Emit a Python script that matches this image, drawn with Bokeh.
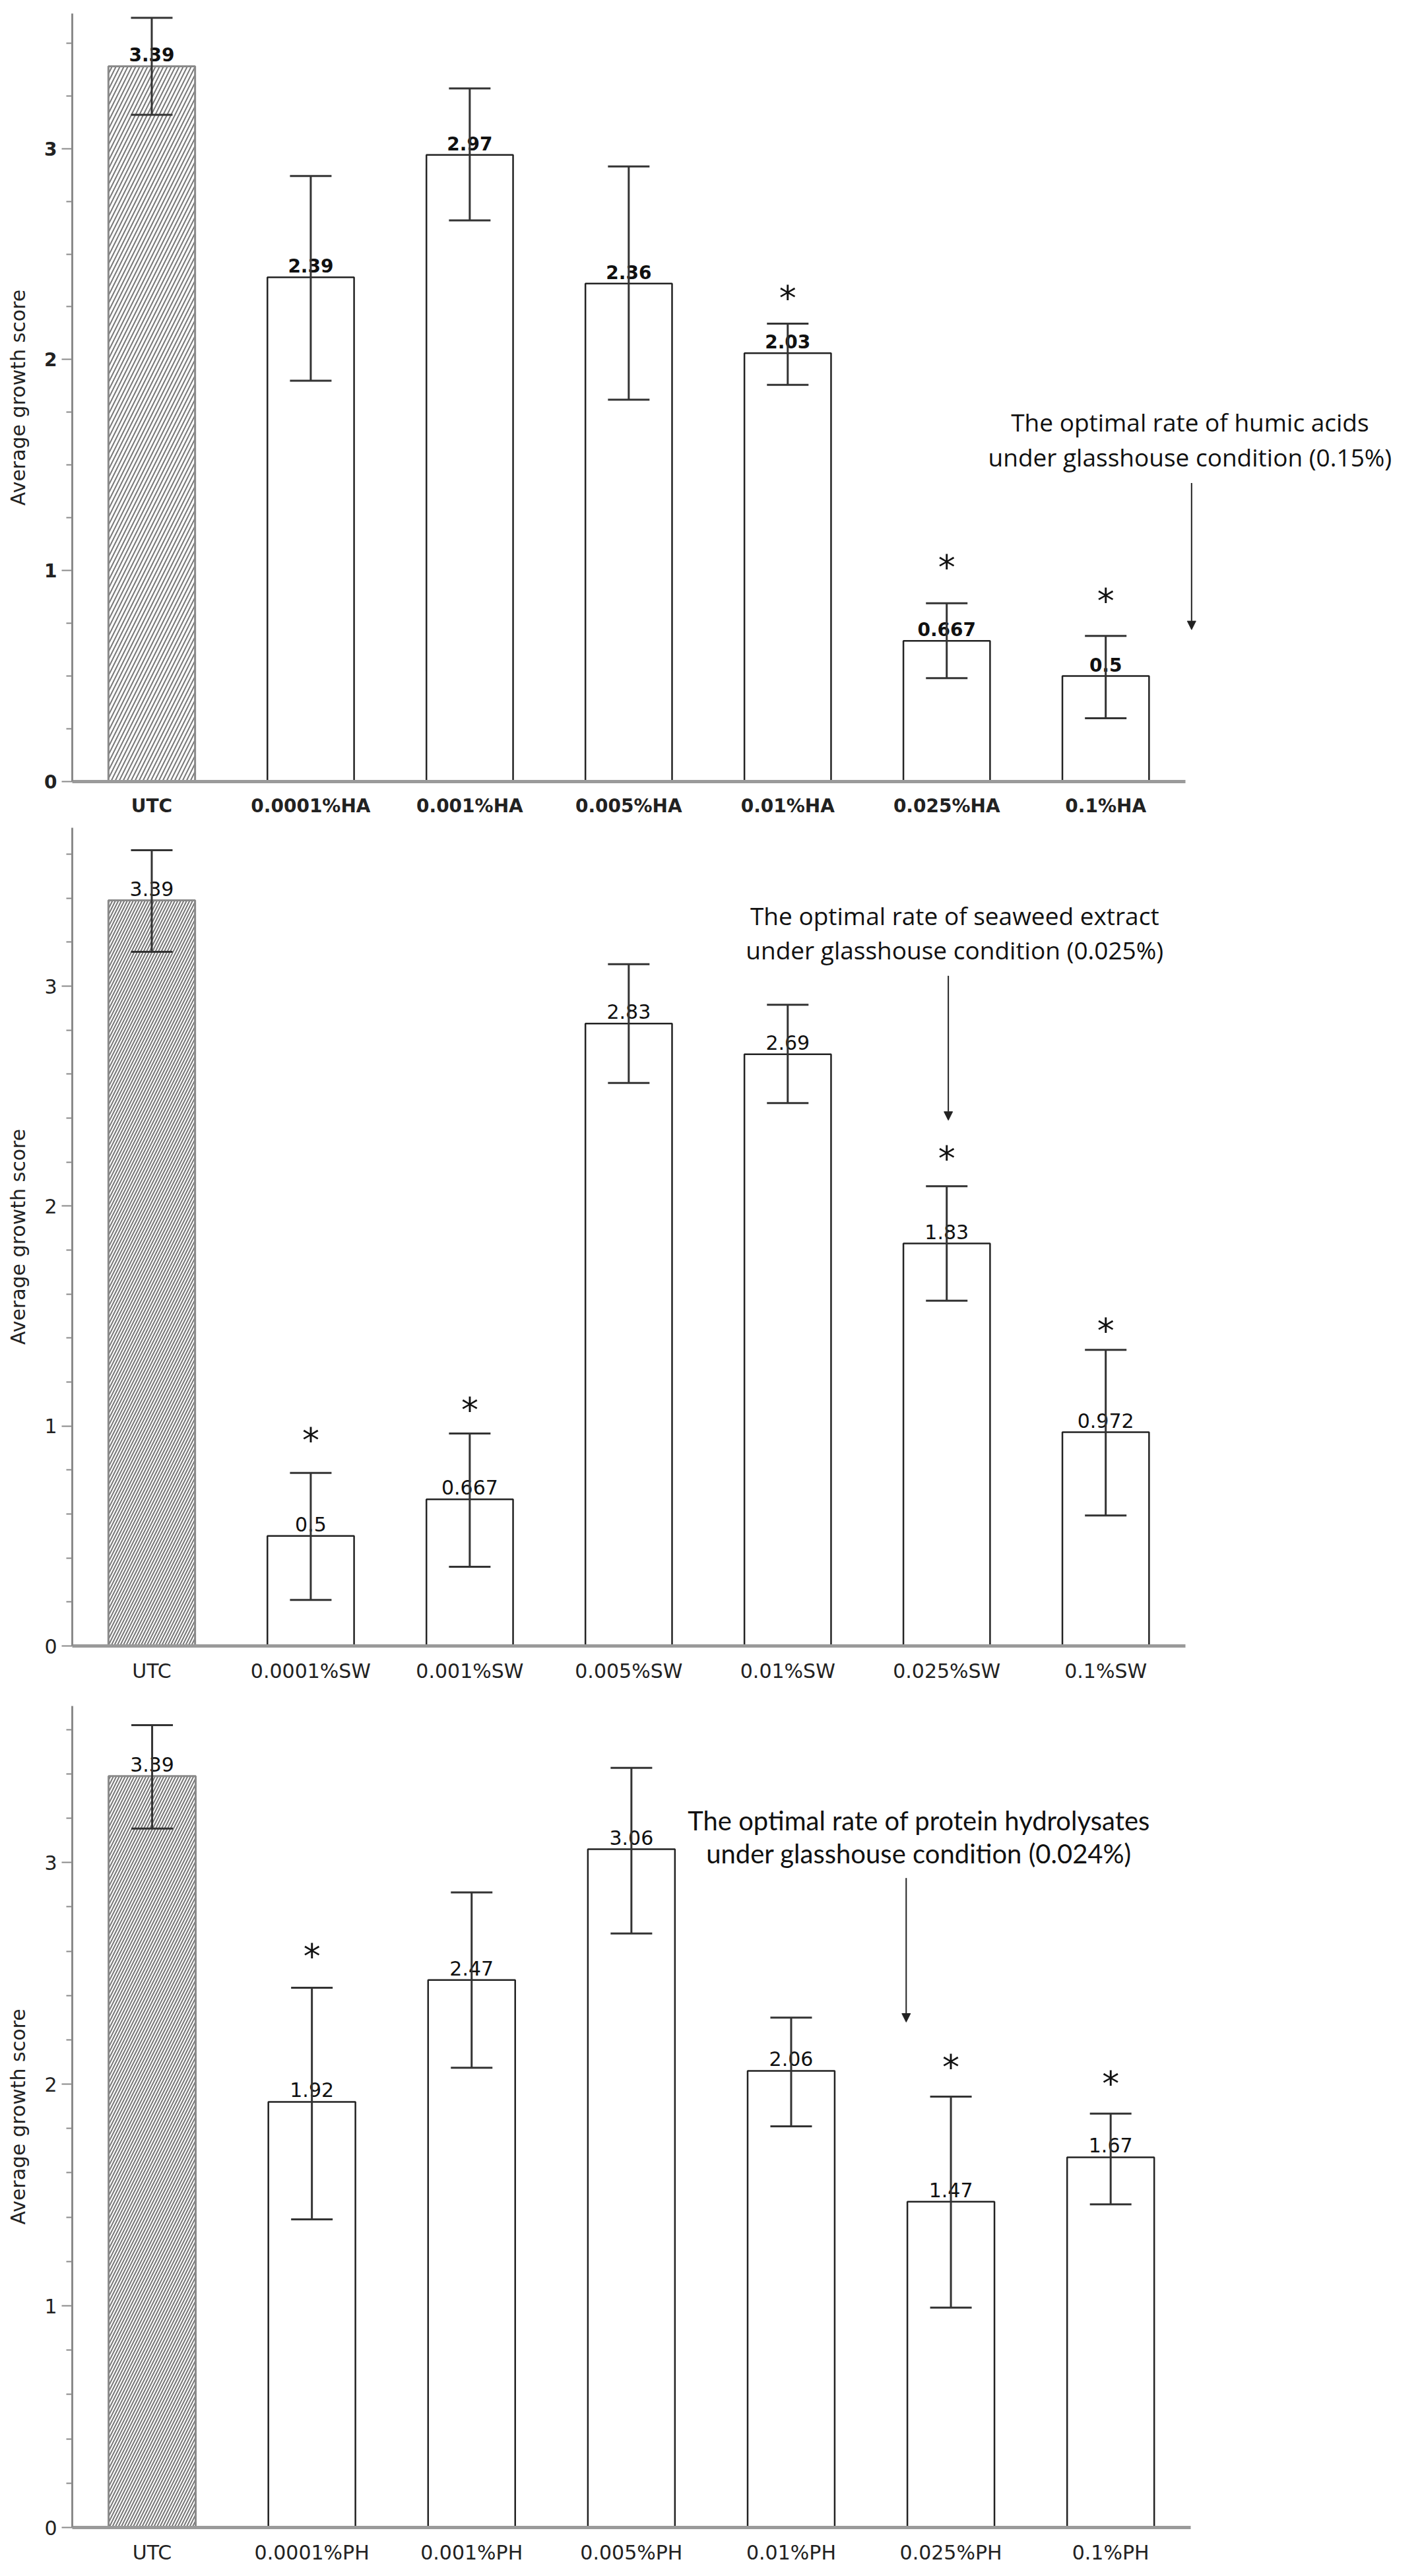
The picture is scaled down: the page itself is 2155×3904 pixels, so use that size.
from bokeh.plotting import figure
from bokeh.models import ColumnDataSource, FixedTicker, Whisker, TeeHead, Arrow, NormalHead, Range1d
from bokeh.layouts import column
from bokeh.embed import file_html
from bokeh.resources import INLINE
from bokeh.core.properties import value
import numpy as np

# ---------------- data ----------------
ha_categories = ["UTC", "0.0001%HA", "0.001%HA", "0.005%HA", "0.01%HA", "0.025%HA", "0.1%HA"]
ha_means = [3.39, 2.39, 2.97, 2.36, 2.03, 0.667, 0.5]
ha_labels = ["3.39", "2.39", "2.97", "2.36", "2.03", "0.667", "0.5"]
ha_upper = [3.62, 2.87, 3.285, 2.915, 2.17, 0.845, 0.69]
ha_lower = [3.16, 1.90, 2.66, 1.81, 1.88, 0.49, 0.30]
ha_star = [None, None, None, None, 2.315, 1.04, 0.88]
ha_note = ["The optimal rate of humic acids", "under glasshouse condition (0.15%)"]

sw_categories = ["UTC", "0.0001%SW", "0.001%SW", "0.005%SW", "0.01%SW", "0.025%SW", "0.1%SW"]
sw_means = [3.39, 0.5, 0.667, 2.83, 2.69, 1.83, 0.972]
sw_labels = ["3.39", "0.5", "0.667", "2.83", "2.69", "1.83", "0.972"]
sw_upper = [3.618, 0.787, 0.966, 3.10, 2.915, 2.09, 1.346]
sw_lower = [3.156, 0.209, 0.36, 2.56, 2.468, 1.57, 0.593]
sw_star = [None, 0.96, 1.098, None, None, 2.24, 1.458]
sw_note = ["The optimal rate of seaweed extract", "under glasshouse condition (0.025%)"]

ph_categories = ["UTC", "0.0001%PH", "0.001%PH", "0.005%PH", "0.01%PH", "0.025%PH", "0.1%PH"]
ph_means = [3.39, 1.92, 2.47, 3.06, 2.06, 1.47, 1.67]
ph_labels = ["3.39", "1.92", "2.47", "3.06", "2.06", "1.47", "1.67"]
ph_upper = [3.62, 2.435, 2.865, 3.427, 2.30, 1.944, 1.867]
ph_lower = [3.153, 1.39, 2.074, 2.68, 1.81, 0.992, 1.458]
ph_star = [None, 2.6, None, None, None, 2.10, 2.026]
ph_note = ["The optimal rate of protein hydrolysates", "under glasshouse condition (0.024%)"]

y_tick_values = [0, 1, 2, 3]
y_title = "Average growth score"


def make_panel(cats, means, labels, upper, lower, stars, note,
               note_x, note_y, arrow_x, arrow_y, y_top, x_end, minor_step,
               height, b_top, b_bottom, b_left, bold, note_font, note_size,
               hatch_scale):
    n = len(cats)
    xs = list(range(1, n + 1))
    p = figure(width=2139, height=height, x_range=Range1d(0.5, x_end),
               y_range=Range1d(0, y_top), output_backend="svg",
               toolbar_location=None, min_border_left=b_left, min_border_right=6,
               min_border_top=b_top, min_border_bottom=b_bottom,
               background_fill_color="white", border_fill_color="white")
    p.outline_line_color = None
    p.xgrid.visible = False
    p.ygrid.visible = False

    style = "bold" if bold else "normal"
    fs = "28px" if bold else "30px"

    # y axis
    minor = [float(v) for v in np.arange(minor_step, y_top, minor_step) if abs(v - round(v)) > 1e-6]
    p.yaxis.ticker = FixedTicker(ticks=y_tick_values, minor_ticks=minor)
    p.yaxis.axis_line_color = "#8a8a8a"
    p.yaxis.axis_line_width = 3
    p.yaxis.major_tick_line_color = "#8a8a8a"
    p.yaxis.major_tick_line_width = 2
    p.yaxis.major_tick_out = 16
    p.yaxis.major_tick_in = 0
    p.yaxis.minor_tick_line_color = "#8a8a8a"
    p.yaxis.minor_tick_line_width = 2
    p.yaxis.minor_tick_out = 9
    p.yaxis.minor_tick_in = 0
    p.yaxis.major_label_text_font = "DejaVu Sans"
    p.yaxis.major_label_text_font_size = fs
    p.yaxis.major_label_text_font_style = style
    p.yaxis.major_label_text_color = "#222222"
    p.yaxis.major_label_standoff = 7
    p.yaxis.axis_label = y_title
    p.yaxis.axis_label_text_font = "DejaVu Sans"
    p.yaxis.axis_label_text_font_size = "30px"
    p.yaxis.axis_label_text_font_style = "normal"
    p.yaxis.axis_label_text_color = "#222222"
    p.yaxis.axis_label_standoff = 19

    # x axis (baseline + category labels)
    p.xaxis.ticker = FixedTicker(ticks=xs)
    p.xaxis.major_label_overrides = {x: c for x, c in zip(xs, cats)}
    p.xaxis.bounds = (0.5, n + 0.5)
    p.xaxis.axis_line_color = "#9a9a9a"
    p.xaxis.axis_line_width = 5
    p.xaxis.major_tick_line_color = None
    p.xaxis.minor_tick_line_color = None
    p.xaxis.major_label_text_font = "DejaVu Sans"
    p.xaxis.major_label_text_font_size = fs
    p.xaxis.major_label_text_font_style = style
    p.xaxis.major_label_text_color = "#222222"
    p.xaxis.major_label_standoff = 14

    # bars
    src = ColumnDataSource(dict(x=xs, top=means, label=labels, upper=upper, lower=lower))
    rest = ColumnDataSource(dict(x=xs[1:], top=means[1:]))
    p.vbar(x="x", top="top", bottom=0, width=0.545, source=rest,
           fill_color="white", line_color="#222222", line_width=2.5)
    p.vbar(x=[xs[0]], top=[means[0]], bottom=0, width=0.545,
           fill_color="white", line_color="#8a8a8a", line_width=3,
           hatch_pattern="/", hatch_color="#777777", hatch_scale=hatch_scale,
           hatch_weight=2)

    # value labels
    p.text(x="x", y="top", text="label", source=src, text_align="center",
           text_baseline="bottom", y_offset=-7,
           text_font=value("DejaVu Sans"), text_font_size=fs,
           text_font_style=style, text_color="#111111")

    # error bars
    p.add_layout(Whisker(base="x", upper="upper", lower="lower", source=src,
                         level="overlay",
                         line_color="#333333", line_width=3,
                         upper_head=TeeHead(size=63, line_color="#333333", line_width=3),
                         lower_head=TeeHead(size=63, line_color="#333333", line_width=3)))

    # significance stars
    sx = [x for x, s in zip(xs, stars) if s is not None]
    sy = [s for s in stars if s is not None]
    p.text(x=sx, y=sy, text=["*"] * len(sx), text_align="center",
           text_baseline="middle", y_offset=8,
           text_font=value("DejaVu Sans"), text_font_size="52px", text_color="#111111")

    # annotation
    p.text(x=[note_x] * len(note), y=note_y, text=note, text_align="center",
           text_baseline="middle", text_font=value(note_font),
           text_font_size=note_size, text_color="#111111")
    p.add_layout(Arrow(end=NormalHead(size=13, fill_color="#222222", line_color="#222222", line_width=1),
                       x_start=arrow_x, y_start=arrow_y[0], x_end=arrow_x, y_end=arrow_y[1],
                       line_color="#222222", line_width=2))
    return p


p1 = make_panel(ha_categories, ha_means, ha_labels, ha_upper, ha_lower, ha_star, ha_note,
                note_x=7.53, note_y=[1.705, 1.54], arrow_x=7.54, arrow_y=(1.415, 0.72),
                y_top=3.64, x_end=8.90, minor_step=0.25, height=1240, b_top=20,
                b_bottom=55, b_left=109, bold=True, note_font="Open Sans",
                note_size="37px", hatch_scale=12)
p2 = make_panel(sw_categories, sw_means, sw_labels, sw_upper, sw_lower, sw_star, sw_note,
                note_x=6.05, note_y=[3.32, 3.164], arrow_x=6.01, arrow_y=(3.047, 2.39),
                y_top=3.72, x_end=8.90, minor_step=0.2, height=1312, b_top=14,
                b_bottom=55, b_left=109, bold=False, note_font="Open Sans",
                note_size="37px", hatch_scale=9)
p3 = make_panel(ph_categories, ph_means, ph_labels, ph_upper, ph_lower, ph_star, ph_note,
                note_x=5.80, note_y=[3.19, 3.04], arrow_x=5.72, arrow_y=(2.93, 2.28),
                y_top=3.706, x_end=8.86, minor_step=0.2, height=1336, b_top=33,
                b_bottom=52, b_left=102, bold=False, note_font="Lato",
                note_size="40px", hatch_scale=9)

layout = column(p1, p2, p3, spacing=0)
open("out.html", "w").write(file_html(layout, INLINE))
